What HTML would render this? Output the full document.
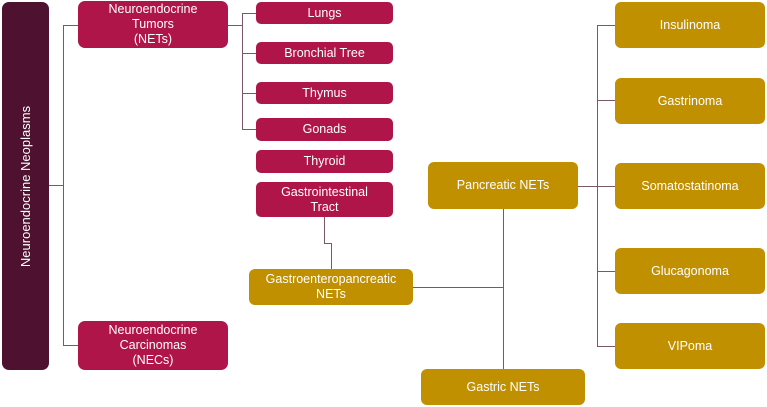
<!DOCTYPE html>
<html><head><style>
body{margin:0;width:767px;height:407px;background:#fff;position:relative;overflow:hidden;font-family:"Liberation Sans",sans-serif;}
.b{position:absolute;display:flex;align-items:center;justify-content:center;text-align:center;color:#fff;font-size:12.5px;line-height:15px;box-sizing:border-box;}
.r{background:#b0154a;border-radius:5px;}
.g{background:#c09000;border-radius:6px;}
.l{position:absolute;background:#7a5868;}
</style></head><body>
<div class="b" style="left:2px;top:2px;width:47px;height:368px;background:#4e1230;border-radius:7px;"><span style="transform:rotate(-90deg);white-space:nowrap;font-size:13px;">Neuroendocrine Neoplasms</span></div>
<div class="l" style="left:49px;top:185px;width:14px;height:1px"></div>
<div class="l" style="left:63px;top:25px;width:1px;height:321px"></div>
<div class="l" style="left:63px;top:25px;width:15px;height:1px"></div>
<div class="l" style="left:63px;top:345px;width:15px;height:1px"></div>
<div class="b r" style="left:78px;top:1px;width:150px;height:47px;border-radius:7px;">Neuroendocrine<br>Tumors<br>(NETs)</div>
<div class="b r" style="left:78px;top:321px;width:150px;height:49px;border-radius:7px;">Neuroendocrine<br>Carcinomas<br>(NECs)</div>
<div class="l" style="left:228px;top:25px;width:14px;height:1px"></div>
<div class="l" style="left:242px;top:13px;width:1px;height:117px"></div>
<div class="l" style="left:242px;top:13px;width:14px;height:1px"></div>
<div class="l" style="left:242px;top:53px;width:14px;height:1px"></div>
<div class="l" style="left:242px;top:93px;width:14px;height:1px"></div>
<div class="l" style="left:242px;top:129px;width:14px;height:1px"></div>
<div class="b r" style="left:256px;top:2px;width:137px;height:22px;">Lungs</div>
<div class="b r" style="left:256px;top:42px;width:137px;height:22px;">Bronchial Tree</div>
<div class="b r" style="left:256px;top:82px;width:137px;height:22px;">Thymus</div>
<div class="b r" style="left:256px;top:118px;width:137px;height:23px;">Gonads</div>
<div class="b r" style="left:256px;top:150px;width:137px;height:23px;">Thyroid</div>
<div class="b r" style="left:256px;top:182px;width:137px;height:35px;">Gastrointestinal<br>Tract</div>
<div class="l" style="left:324px;top:217px;width:1px;height:26px"></div>
<div class="l" style="left:324px;top:243px;width:8px;height:1px"></div>
<div class="l" style="left:331px;top:243px;width:1px;height:26px"></div>
<div class="b g" style="left:249px;top:269px;width:164px;height:36px;">Gastroenteropancreatic<br>NETs</div>
<div class="l" style="left:413px;top:287px;width:90px;height:1px"></div>
<div class="l" style="left:503px;top:209px;width:1px;height:160px"></div>
<div class="b g" style="left:428px;top:162px;width:150px;height:47px;">Pancreatic NETs</div>
<div class="b g" style="left:421px;top:369px;width:164px;height:36px;">Gastric NETs</div>
<div class="l" style="left:578px;top:186px;width:19px;height:1px"></div>
<div class="l" style="left:597px;top:25px;width:1px;height:322px"></div>
<div class="l" style="left:597px;top:25px;width:18px;height:1px"></div>
<div class="l" style="left:597px;top:100px;width:18px;height:1px"></div>
<div class="l" style="left:597px;top:186px;width:18px;height:1px"></div>
<div class="l" style="left:597px;top:271px;width:18px;height:1px"></div>
<div class="l" style="left:597px;top:346px;width:18px;height:1px"></div>
<div class="b g" style="left:615px;top:2px;width:150px;height:46px;">Insulinoma</div>
<div class="b g" style="left:615px;top:78px;width:150px;height:46px;">Gastrinoma</div>
<div class="b g" style="left:615px;top:163px;width:150px;height:46px;">Somatostatinoma</div>
<div class="b g" style="left:615px;top:248px;width:150px;height:46px;">Glucagonoma</div>
<div class="b g" style="left:615px;top:323px;width:150px;height:46px;">VIPoma</div>
</body></html>
